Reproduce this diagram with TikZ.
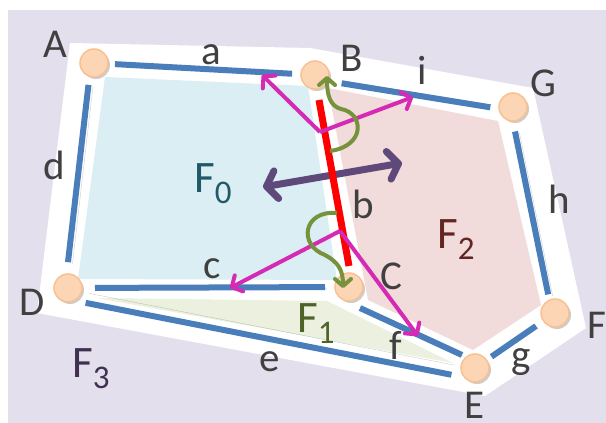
\documentclass[tikz,border=0pt]{standalone}
\usepackage{fontspec}
\setmainfont{Carlito}
\usepackage{xcolor}
\usepackage{tikz}
\usetikzlibrary{arrows.meta,calc}

\definecolor{lavender}{RGB}{228,223,236}
\definecolor{faceblue}{RGB}{218,238,243}
\definecolor{facepink}{RGB}{242,220,219}
\definecolor{facegreen}{RGB}{235,241,222}
\definecolor{edgeblue}{RGB}{74,126,187}
\definecolor{vtxfill}{RGB}{252,213,181}
\definecolor{vtxline}{RGB}{250,192,144}
\definecolor{magarrow}{RGB}{213,42,180}
\definecolor{purarrow}{RGB}{95,73,122}
\definecolor{grnarrow}{RGB}{118,146,60}
\definecolor{labgray}{RGB}{64,64,64}
\definecolor{fzero}{RGB}{33,89,104}
\definecolor{fone}{RGB}{79,98,40}
\definecolor{ftwo}{RGB}{99,37,35}
\definecolor{fthree}{RGB}{64,49,82}

\newcommand{\facelab}[1]{F\raisebox{-11pt}{\fontsize{33}{33}\selectfont #1}}

\begin{document}
\begin{tikzpicture}[x=1pt, y=-1pt,
  vtx/.style={circle, fill=vtxfill, draw=vtxline, line width=1.5pt, minimum size=28pt,
    inner sep=0pt, outer sep=0pt,
    preaction={fill=black, opacity=.2, transform canvas={shift={(2pt,-2pt)}}}},
  seg/.style={draw=edgeblue, line width=6pt,
    preaction={draw=black, opacity=.2, transform canvas={shift={(1.5pt,-1.5pt)}}}},
  lbl/.style={text=labgray, font=\fontsize{41}{41}\selectfont, inner sep=0pt},
  flbl/.style={font=\fontsize{45}{45}\selectfont, inner sep=0pt, anchor=base west},
  magarr/.style={draw=magarrow, line width=4pt, -{Straight Barb[length=8pt,width=18pt,round]}},
  purarr/.style={draw=purarrow, line width=7pt,
    {Straight Barb[length=10pt,width=28pt,round]}-{Straight Barb[length=10pt,width=28pt,round]}},
  grnarr/.style={draw=grnarrow, line width=4pt, -{Straight Barb[length=7pt,width=16pt,round]}}]
\useasboundingbox (0,0) rectangle (606,423);
\fill[lavender] (8,10) rectangle (606,423);
\fill[white] (70,43) -- (310,48) -- (533,88) -- (586,328) -- (485,396) -- (37,313) -- cycle;

% faces
\fill[faceblue] (105,77) -- (308,86) -- (337,280) -- (78,279) -- cycle;
\fill[facepink] (328,88) -- (498,121) -- (541,305) -- (473,350) -- (368,300) -- cycle;
\fill[facegreen] (97,298) -- (327,301) -- (453,363) -- cycle;

% vertices
\node[vtx] (A) at (94,63) {};
\node[vtx] (B) at (315,75) {};
\node[vtx] (G) at (513,107) {};
\node[vtx] (F) at (555,313) {};
\node[vtx] (E) at (475,368) {};
\node[vtx] (C) at (349,287) {};
\node[vtx] (D) at (68,288) {};

% edges
\draw[seg, shorten <=7pt, shorten >=9pt] (A) -- (B);
\draw[seg, shorten <=13pt, shorten >=9pt, transform canvas={shift={(0pt,-4pt)}}] (B) -- (G);
\draw[seg, shorten <=11pt, shorten >=5pt, transform canvas={shift={(-3pt,0pt)}}] (G) -- (F);
\draw[seg, shorten <=9pt, shorten >=6pt] (F) -- (E);
\draw[seg, shorten <=6pt, shorten >=8pt, transform canvas={shift={(-2pt,-11pt)}}] (D) -- (E);
\draw[seg, shorten <=13pt, shorten >=10pt] (D) -- (C);
\draw[seg, shorten <=8pt, shorten >=12pt, transform canvas={shift={(-3pt,0pt)}}] (A) -- (D);
\coordinate (fs) at (360,308);
\coordinate (fe) at (462,355);
\draw[seg] (fs) -- (fe);

% arrows
\coordinate (pl) at (263,187);
\coordinate (pr) at (402,163);
\draw[purarr] (pl) -- (pr);
\draw[red, line width=7pt] (319,100) -- (349,266);
\coordinate (p) at (320,132);
\coordinate (q) at (340,231);
\coordinate (ta) at (262,75);
\coordinate (ti) at (413,97);
\coordinate (tc) at (230,288);
\coordinate (tf) at (418,336);
\draw[magarr] (p) -- (ta);
\draw[magarr] (p) -- (ti);
\draw[magarr] (q) -- (tc);
\draw[magarr] (q) -- (tf);
\coordinate (gu) at (330,151);
\coordinate (gut) at (327,76);
\coordinate (gl) at (337,213);
\coordinate (glt) at (343,288);
\draw[grnarr] (gu) .. controls (366,146) and (364,113) .. (341,109) .. controls (330,106) and (327,95) .. (gut);
\draw[grnarr] (gl) .. controls (303,210) and (298,245) .. (325,255) .. controls (338,262) and (343,270) .. (glt);

% labels
\node[lbl] (labA) at (55,44) {A};
\node[lbl] (labB) at (352,58) {B};
\node[lbl] (labG) at (543,83) {G};
\node[lbl] (labF) at (597,325) {F};
\node[lbl] (labE) at (475,405) {E};
\node[lbl] (labD) at (32,302) {D};
\node[lbl] (labC) at (391,276) {C};
\node[lbl] (laba) at (211,55) {a};
\node[lbl] (labi) at (422,70) {i};
\node[lbl] (labd) at (54,165) {d};
\node[lbl] (labh) at (559,199) {h};
\node[lbl] (labb) at (363,204) {b};
\node[lbl] (labc) at (212,269) {c};
\node[lbl] (labe) at (270,362) {e};
\node[lbl] (labf) at (396,345) {f};
\node[lbl] (labg) at (521,362) {g};
\node[flbl, text=fzero] (fac0) at (194,192) {\facelab{0}};
\node[flbl, text=fone] (fac1) at (297,332) {\facelab{1}};
\node[flbl, text=ftwo] (fac2) at (437,248) {\facelab{2}};
\node[flbl, text=fthree] (fac3) at (72,377) {\facelab{3}};
\end{tikzpicture}
\end{document}
